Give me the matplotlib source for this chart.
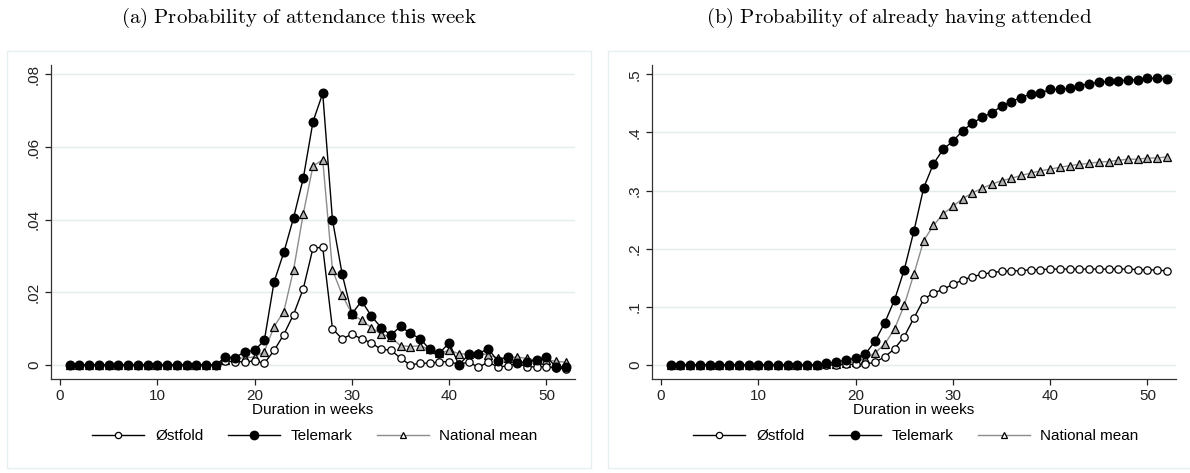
from matplotlib import pyplot as plt
from matplotlib.lines import Line2D
from matplotlib.patches import Rectangle

plt.rcParams['font.family'] = ['Liberation Sans', 'DejaVu Sans']
plt.rcParams['mathtext.fontset'] = 'cm'

# ---- data ----
weeks = list(range(1, 53))

# (a) weekly probability of attendance
ostfold_week = [0] * 16 + [
    .0011, .0009, .0009, .0011, .0005, .0040, .0084, .0139, .0210, .0322,
    .0324, .0100, .0072, .0085, .0072, .0061, .0043, .0041, .0019, .0000,
    .0005, .0005, .0009, .0009, .0002, .0008, -.0006, .0008, -.0005, -.0003,
    .0005, -.0005, -.0005, -.0005, -.0007, -.0012]
telemark_week = [0] * 16 + [
    .0022, .0020, .0037, .0040, .0068, .0229, .0310, .0405, .0514, .0670,
    .0748, .0400, .0250, .0141, .0176, .0135, .0103, .0082, .0107, .0087,
    .0073, .0043, .0033, .0061, .0000, .0029, .0031, .0045, .0011, .0023,
    .0006, .0009, .0014, .0023, -.0006, -.0005]
national_week = [0] * 16 + [
    .0015, .0018, .0020, .0022, .0037, .0106, .0147, .0262, .0416, .0548,
    .0565, .0262, .0193, .0141, .0123, .0103, .0085, .0077, .0053, .0051,
    .0053, .0043, .0032, .0041, .0031, .0030, .0034, .0027, .0020, .0020,
    .0022, .0018, .0013, .0015, .0010, .0008]

# (b) cumulative probability of having attended
ostfold_cum = [0] * 16 + [
    .000, .000, .001, .001, .001, .005, .014, .028, .049, .081,
    .113, .124, .130, .139, .146, .152, .156, .159, .161, .162,
    .162, .164, .164, .165, .165, .165, .165, .165, .165, .165,
    .165, .165, .164, .164, .163, .162]
telemark_cum = [0] * 16 + [
    .003, .005, .0085, .012, .019, .041, .073, .112, .164, .231,
    .305, .346, .371, .385, .403, .416, .426, .434, .445, .453,
    .460, .466, .468, .474, .474, .476, .480, .484, .486, .488,
    .489, .490, .491, .493, .493, .492]
national_cum = [0] * 16 + [
    .001, .002, .0035, .005, .011, .021, .036, .062, .103, .157,
    .214, .240, .260, .273, .286, .296, .304, .311, .317, .321,
    .326, .330, .334, .337, .340, .343, .345, .347, .349, .350,
    .352, .354, .354, .356, .356, .358]

titles = ['(a) Probability of attendance this week',
          '(b) Probability of already having attended']
yticks_a = [0, .02, .04, .06, .08]
ylabels_a = ['0', '.02', '.04', '.06', '.08']
yticks_b = [0, .1, .2, .3, .4, .5]
ylabels_b = ['0', '.1', '.2', '.3', '.4', '.5']
xticks = [0, 10, 20, 30, 40, 50]
names = ['Østfold', 'Telemark', 'National mean']

W, H = 1190, 473
fig = plt.figure(figsize=(W / 100, H / 100), dpi=100)

gridcol = '#e4ecee'
framecol = '#e6eef0'
natcol = '#8c8c8c'


def draw_panel(left_px, ost, tel, nat, yt, yl, ylim, title):
    # axes box in pixels -> figure fraction
    ax = fig.add_axes([left_px / W, (H - 379.3) / H, 524.3 / W, 314.3 / H])
    ax.plot(weeks, nat, color=natcol, lw=1, marker='^', ms=5.8,
            mfc='#b4b4b4', mec='black', mew=0.9, zorder=3)
    ax.plot(weeks, ost, color='black', lw=1, marker='o', ms=5.3,
            mfc='white', mec='black', mew=0.9, zorder=4)
    ax.plot(weeks, tel, color='black', lw=1, marker='o', ms=6.2,
            mfc='black', mec='black', zorder=5)

    ax.set_xlim(-0.96, 52.93)
    ax.set_ylim(ylim)
    ax.set_xticks(xticks)
    ax.set_yticks(yt)
    ax.set_yticklabels(yl, rotation=90, va='center')
    ax.tick_params(labelsize=11, length=4, width=0.9, colors='#222222',
                   pad=3)
    ax.set_xlabel('Duration in weeks', fontsize=11, labelpad=0)
    ax.grid(axis='y', color=gridcol, lw=1)
    ax.set_axisbelow(True)
    for s in ['top', 'right']:
        ax.spines[s].set_visible(False)
    for s in ['left', 'bottom']:
        ax.spines[s].set_color('#333333')
        ax.spines[s].set_linewidth(0.9)

    # light frame around each graph
    fig.patches.append(Rectangle(((left_px - 44) / W, 5 / H), 584 / W,
                                 417 / H, transform=fig.transFigure,
                                 fill=False, ec=framecol, lw=1))
    cx = (left_px + 262) / W
    fig.text(cx - 0.012, (H - 18) / H,
             r'$\mathrm{' + title.replace(' ', r'\ ') + '}$',
             ha='center', va='center', fontsize=15)

    # legend below the axes
    handles = [
        Line2D([], [], color='black', lw=1, marker='o', ms=4.5, mfc='white',
               mec='black', mew=0.9),
        Line2D([], [], color='black', lw=1, marker='o', ms=6, mfc='black',
               mec='black'),
        Line2D([], [], color=natcol, lw=1, marker='^', ms=5, mfc='white',
               mec='black', mew=0.9),
    ]
    fig.legend(handles, names, loc='center', ncol=3, frameon=False,
               bbox_to_anchor=(cx + 0.002, (H - 436) / H), fontsize=11,
               handlelength=3.4, handletextpad=0.7, columnspacing=1.6)
    return ax


draw_panel(50.7, ostfold_week, telemark_week, national_week,
           yticks_a, ylabels_a, (-.00393, .0826), titles[0])
draw_panel(651.7, ostfold_cum, telemark_cum, national_cum,
           yticks_b, ylabels_b, (-.0246, .516), titles[1])

plt.savefig('out.png', dpi=100)
